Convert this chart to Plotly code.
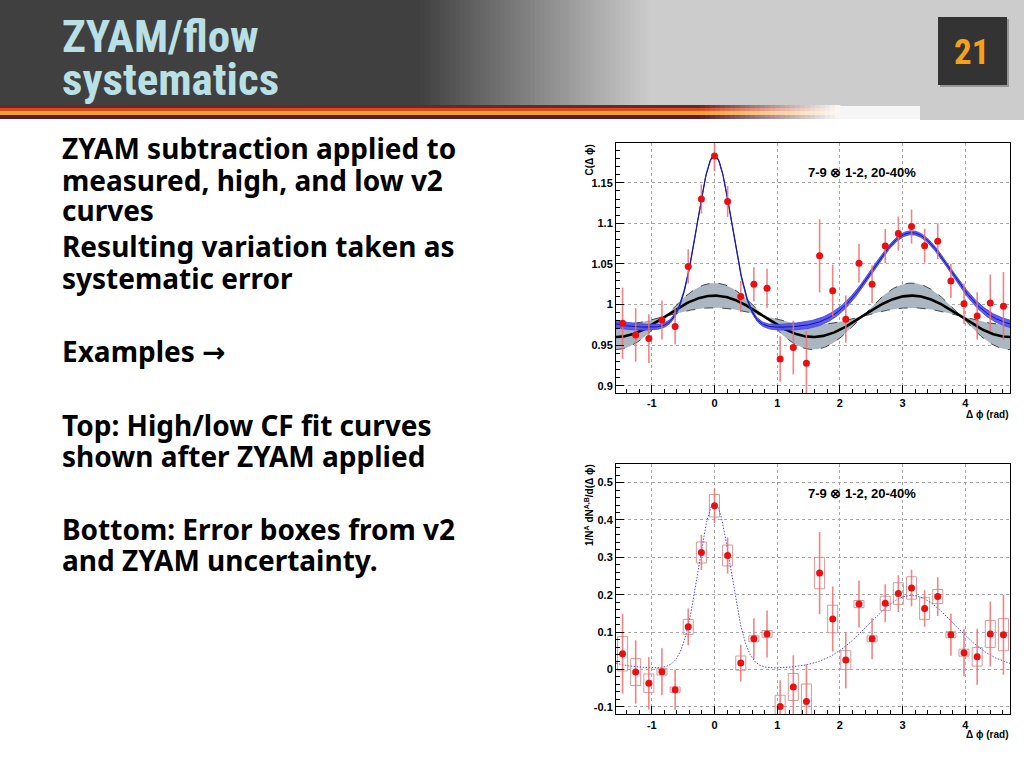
import numpy as np
import plotly.graph_objects as go

PI = np.pi

# ---------------- data ----------------
dphi = [-1.466, -1.257, -1.047, -0.838, -0.628, -0.419, -0.209, 0.0, 0.209, 0.419,
        0.628, 0.838, 1.047, 1.257, 1.466, 1.676, 1.885, 2.094, 2.304, 2.513,
        2.723, 2.932, 3.142, 3.351, 3.560, 3.770, 3.979, 4.189, 4.398, 4.608]

cf_values = [0.977, 0.9625, 0.958, 0.981, 0.973, 1.047, 1.130, 1.183, 1.127, 1.010,
             1.025, 1.020, 0.933, 0.947, 0.9275, 1.060, 1.017, 0.982, 1.051, 1.025,
             1.072, 1.0875, 1.096, 1.0725, 1.078, 1.029, 1.001, 0.986, 1.002, 0.998]
cf_errors = [0.044, 0.033, 0.030, 0.024, 0.022, 0.021, 0.018, 0.019, 0.019, 0.019,
             0.021, 0.024, 0.028, 0.033, 0.040, 0.045, 0.032, 0.029, 0.024, 0.023,
             0.021, 0.021, 0.021, 0.021, 0.022, 0.021, 0.025, 0.029, 0.035, 0.042]

yield_values = [0.042, -0.007, -0.037, -0.006, -0.054, 0.114, 0.313, 0.438, 0.305, 0.017,
                0.082, 0.095, -0.099, -0.047, -0.086, 0.258, 0.135, 0.025, 0.175, 0.082,
                0.177, 0.203, 0.218, 0.163, 0.195, 0.093, 0.045, 0.034, 0.095, 0.093]
yield_stat_err = [0.107, 0.085, 0.070, 0.063, 0.054, 0.049, 0.047, 0.046, 0.048, 0.049,
                  0.055, 0.063, 0.070, 0.085, 0.100, 0.110, 0.087, 0.075, 0.063, 0.055,
                  0.051, 0.049, 0.049, 0.049, 0.052, 0.056, 0.063, 0.075, 0.087, 0.107]
yield_sys_err = [0.046, 0.036, 0.025, 0.009, 0.007, 0.020, 0.028, 0.030, 0.028, 0.019,
                 0.008, 0.009, 0.030, 0.036, 0.047, 0.042, 0.037, 0.025, 0.0095, 0.008,
                 0.019, 0.029, 0.030, 0.029, 0.019, 0.008, 0.0095, 0.025, 0.036, 0.043]

# fit parameters
flow_base = 0.9855
flow_mod = [0.0105, 0.0255, 0.041]          # low v2, measured v2, high v2  (B*2v2)
cf_fit_base = [0.9688, 0.9742]              # lower / upper CF fit
cf_fit_flow = [0.00175, -0.00175]
cf_fit_near = [0.212, 0.212]
cf_fit_away = [0.1155, 0.1185]
cf_fit_sigma = [0.275, 0.62]                # near, away widths
yield_fit_base = 0.003
yield_fit_amp = [0.442, 0.195]
yield_fit_sigma = [0.255, 0.68]

x_tickvals = [-1, 0, 1, 2, 3, 4]
x_ticktext = ["-1", "0", "1", "2", "3", "4"]
ytop_tickvals = [0.9, 0.95, 1.0, 1.05, 1.1, 1.15]
ytop_ticktext = ["0.9", "0.95", "1", "1.05", "1.1", "1.15"]
ybot_tickvals = [-0.1, 0.0, 0.1, 0.2, 0.3, 0.4, 0.5]
ybot_ticktext = ["-0.1", "0", "0.1", "0.2", "0.3", "0.4", "0.5"]

panel_label = "7-9 \u2297 1-2, 20-40%"
xtitle = "\u0394 \u03d5 (rad)"
ytitle_top = "C(\u0394 \u03d5)"
ytitle_bot = "1/N<sup>A</sup> dN<sup>A,B</sup>/d(\u0394 \u03d5)"

title_lines = ["ZYAM/flow", "systematics"]
body_lines = ["ZYAM subtraction applied to", "measured, high, and low v2", "curves",
              "Resulting variation taken as", "systematic error",
              "Examples \u2192",
              "Top: High/low CF fit curves", "shown after ZYAM applied",
              "Bottom: Error boxes from v2", "and ZYAM uncertainty."]
body_y = [148, 180, 210, 246, 278, 351, 425, 456, 529, 560]
page_number = "21"

# ---------------- helpers ----------------
W, H = 1024, 768
def px(x):
    return x / W
def py(y):
    return 1 - y / H

phi = np.linspace(-PI / 2, 3 * PI / 2, 600)

def pgauss(x, mu, s):
    return sum(np.exp(-(x - mu + k * 2 * PI) ** 2 / (2 * s * s)) for k in (-1, 0, 1))

def flow(i):
    return flow_base + flow_mod[i] * np.cos(2 * phi)

def cf_fit(i):
    return (cf_fit_base[i] + cf_fit_flow[i] * np.cos(2 * phi)
            + cf_fit_near[i] * pgauss(phi, 0, cf_fit_sigma[0])
            + cf_fit_away[i] * pgauss(phi, PI, cf_fit_sigma[1]))

yield_fit = (yield_fit_base + yield_fit_amp[0] * pgauss(phi, 0, yield_fit_sigma[0])
             + yield_fit_amp[1] * pgauss(phi, PI, yield_fit_sigma[1]))

fig = go.Figure()

# ---- top panel ----
fig.add_trace(go.Scatter(x=phi, y=flow(2), mode="lines", xaxis="x", yaxis="y",
                         line=dict(color="#222222", width=0.8, dash="dash"), hoverinfo="skip"))
fig.add_trace(go.Scatter(x=phi, y=flow(0), mode="lines", xaxis="x", yaxis="y", fill="tonexty",
                         fillcolor="rgb(170,183,193)",
                         line=dict(color="#222222", width=0.8, dash="dash"), hoverinfo="skip"))
fig.add_trace(go.Scatter(x=phi, y=flow(1), mode="lines", xaxis="x", yaxis="y",
                         line=dict(color="black", width=2.6), hoverinfo="skip"))
lo, hi = cf_fit(0), cf_fit(1)
fig.add_trace(go.Scatter(x=phi, y=lo, mode="lines", xaxis="x", yaxis="y",
                         line=dict(color="#4040f0", width=0.8), hoverinfo="skip"))
fig.add_trace(go.Scatter(x=phi, y=hi, mode="lines", xaxis="x", yaxis="y", fill="tonexty",
                         fillcolor="rgba(85,85,245,0.95)",
                         line=dict(color="#4040f0", width=0.8), hoverinfo="skip"))
fig.add_trace(go.Scatter(x=phi, y=(lo + hi) / 2, mode="lines", xaxis="x", yaxis="y",
                         line=dict(color="#14148c", width=1), hoverinfo="skip"))
fig.add_trace(go.Scatter(x=dphi, y=cf_values, mode="markers", xaxis="x", yaxis="y",
                         marker=dict(color="#e81010", size=7),
                         error_y=dict(type="data", array=cf_errors, color="rgba(240,110,110,0.85)",
                                      thickness=1.6, width=0)))

# ---- bottom panel ----
bw = 0.08
bx, by = [], []
for x, y, s in zip(dphi, yield_values, yield_sys_err):
    bx += [x - bw, x + bw, x + bw, x - bw, x - bw, None]
    by += [y - s, y - s, y + s, y + s, y - s, None]
fig.add_trace(go.Scatter(x=bx, y=by, mode="lines", xaxis="x2", yaxis="y2",
                         line=dict(color="#d79a9a", width=1), hoverinfo="skip"))
fig.add_trace(go.Scatter(x=phi, y=yield_fit, mode="lines", xaxis="x2", yaxis="y2",
                         line=dict(color="#4a4aff", width=1, dash="1.5px,1.5px"), hoverinfo="skip"))
fig.add_trace(go.Scatter(x=dphi, y=yield_values, mode="markers", xaxis="x2", yaxis="y2",
                         marker=dict(color="#e81010", size=7),
                         error_y=dict(type="data", array=yield_stat_err, color="rgba(240,110,110,0.85)",
                                      thickness=1.6, width=0)))

tickfont = dict(family="Liberation Sans, Arial, sans-serif", size=11, color="black", weight="bold")

def axis(**kw):
    d = dict(showline=True, linecolor="black", linewidth=1, mirror=True,
             ticks="inside", ticklen=8, tickwidth=1, tickcolor="black",
             showgrid=True, gridcolor="#a8a8a8", griddash="dot", gridwidth=1,
             zeroline=False, tickfont=tickfont, fixedrange=True, tickmode="array")
    d.update(kw)
    return d

def minor(dt):
    return dict(tickmode="linear", dtick=dt, tick0=0, ticks="inside", ticklen=4,
                tickcolor="black", showgrid=False)

xdom = [px(616), px(1010)]
fig.update_layout(
    width=W, height=H, margin=dict(l=0, r=0, t=0, b=0),
    paper_bgcolor="white", plot_bgcolor="white", showlegend=False,
    xaxis=axis(domain=xdom, range=[-PI / 2, 3 * PI / 2], tickvals=x_tickvals, ticktext=x_ticktext,
               anchor="y", minor=minor(0.2)),
    yaxis=axis(domain=[py(393), py(143)], range=[0.891, 1.199], tickvals=ytop_tickvals,
               ticktext=ytop_ticktext, anchor="x", minor=minor(0.01)),
    xaxis2=axis(domain=xdom, range=[-PI / 2, 3 * PI / 2], tickvals=x_tickvals, ticktext=x_ticktext,
                anchor="y2", minor=minor(0.2)),
    yaxis2=axis(domain=[py(714.3), py(464.3)], range=[-0.12, 0.549], tickvals=ybot_tickvals,
                ticktext=ybot_ticktext, anchor="x2", minor=minor(0.02)),
)

shapes = []
def lerp(c1, c2, t):
    return "rgb(%d,%d,%d)" % tuple(round(a + (b - a) * t) for a, b in zip(c1, c2))
dark, light = (64, 64, 64), (204, 204, 204)
shapes.append(dict(type="rect", xref="paper", yref="paper", x0=0, x1=px(425), y0=py(106), y1=1,
                   fillcolor="rgb(64,64,64)", line=dict(width=0), layer="below"))
n = 46
for k in range(n):
    x0 = 420 + k * 5
    t = (k + 0.5) / n
    shapes.append(dict(type="rect", xref="paper", yref="paper", x0=px(x0), x1=px(x0 + 5.5),
                       y0=py(106), y1=1, fillcolor=lerp(dark, light, t), line=dict(width=0), layer="below"))
shapes.append(dict(type="rect", xref="paper", yref="paper", x0=px(649), x1=1, y0=py(106), y1=1,
                   fillcolor="rgb(204,204,204)", line=dict(width=0), layer="below"))
shapes.append(dict(type="rect", xref="paper", yref="paper", x0=px(920), x1=1, y0=py(120), y1=py(105),
                   fillcolor="rgb(204,204,204)", line=dict(width=0), layer="below"))
shapes.append(dict(type="rect", xref="paper", yref="paper", x0=px(830), x1=px(920), y0=py(119), y1=py(106),
                   fillcolor="rgb(246,246,246)", line=dict(width=0), layer="below"))
stripe = [(105, 108, (110, 40, 35)), (108, 111, (215, 75, 30)), (111, 115, (240, 160, 45)), (115, 119, (92, 28, 48))]
for y0, y1, c in stripe:
    shapes.append(dict(type="rect", xref="paper", yref="paper", x0=0, x1=px(700), y0=py(y1), y1=py(y0),
                       fillcolor="rgb(%d,%d,%d)" % c, line=dict(width=0), layer="below"))
    m = 28
    for k in range(m):
        x0 = 700 + k * 5
        t = (k + 0.5) / m
        shapes.append(dict(type="rect", xref="paper", yref="paper", x0=px(x0), x1=px(x0 + 5.5),
                           y0=py(y1), y1=py(y0), fillcolor=lerp(c, (250, 250, 250), t),
                           line=dict(width=0), layer="below"))
shapes.append(dict(type="rect", xref="paper", yref="paper", x0=px(940), x1=px(1009), y0=py(87), y1=py(19),
                   fillcolor="rgb(150,150,150)", line=dict(width=0), layer="below"))
shapes.append(dict(type="rect", xref="paper", yref="paper", x0=px(938), x1=px(1007), y0=py(85), y1=py(17),
                   fillcolor="rgb(51,51,51)", line=dict(width=0), layer="below"))
fig.update_layout(shapes=shapes)

ann = []
title_font = dict(family="Liberation Sans Narrow, Roboto Condensed, Liberation Sans, Arial", size=45,
                  color="rgb(185,224,228)", weight="bold")
for txt, yc in zip(title_lines, [36, 79]):
    ann.append(dict(text=txt, x=px(60), y=py(yc), xref="paper", yref="paper", xanchor="left",
                    yanchor="middle", showarrow=False, font=title_font))
ann.append(dict(text="<b>%s</b>" % page_number, x=px(971), y=py(52), xref="paper", yref="paper",
                xanchor="center", yanchor="middle", showarrow=False,
                font=dict(family="Liberation Sans Narrow, Roboto Condensed, Liberation Sans, Arial", size=35,
                          color="rgb(247,161,26)")))
body_font = dict(family="Noto Sans, DejaVu Sans, sans-serif", size=28, color="black", weight="bold")
for txt, yc in zip(body_lines, body_y):
    ann.append(dict(text=txt, x=px(60), y=py(yc), xref="paper", yref="paper", xanchor="left",
                    yanchor="middle", showarrow=False, font=body_font))

lab_font = dict(family="Liberation Sans, Arial", size=13, color="black", weight="bold")
small_font = dict(family="Liberation Sans, Arial", size=10, color="black", weight="bold")
for yc in (173, 493):
    ann.append(dict(text=panel_label, x=px(862), y=py(yc), xref="paper", yref="paper",
                    xanchor="center", yanchor="middle", showarrow=False, font=lab_font))
for yc in (414, 734):
    ann.append(dict(text=xtitle, x=px(1010), y=py(yc), xref="paper", yref="paper",
                    xanchor="right", yanchor="middle", showarrow=False, font=small_font))
ann.append(dict(text=ytitle_top, x=px(589), y=py(143), xref="paper", yref="paper", textangle=-90,
                xanchor="center", yanchor="top", showarrow=False, font=small_font))
ann.append(dict(text=ytitle_bot, x=px(589), y=py(462), xref="paper", yref="paper", textangle=-90,
                xanchor="center", yanchor="top", showarrow=False, font=small_font))
fig.update_layout(annotations=ann)

fig.write_html("out.html", config={"displayModeBar": False},
               post_script="document.body.style.margin='0';document.body.style.overflow='hidden';")
